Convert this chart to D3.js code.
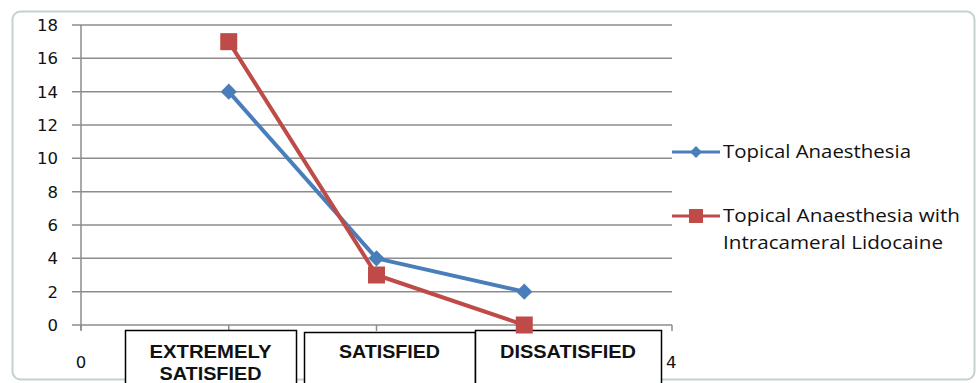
<!DOCTYPE html>
<html>
<head>
<meta charset="utf-8">
<script src="https://cdn.jsdelivr.net/npm/d3@7"></script>
<style>
  html, body { margin: 0; padding: 0; background: #fff; }
  svg { display: block; }
</style>
</head>
<body>
<svg id="chart" width="977" height="383"></svg>
<script>
// Patient satisfaction by anaesthesia technique
const categories = ["EXTREMELY SATISFIED", "SATISFIED", "DISSATISFIED"];
const categoryLines = [["EXTREMELY", "SATISFIED"], ["SATISFIED"], ["DISSATISFIED"]];
const topical = [14, 4, 2];
const topicalLidocaine = [17, 3, 0];
const yTicks = [0, 2, 4, 6, 8, 10, 12, 14, 16, 18];
const xEndTicks = [0, 4];
const seriesNames = ["Topical Anaesthesia", "Topical Anaesthesia with|Intracameral Lidocaine"];

const svg = d3.select("#chart");
const blue = "#4a7ebb", red = "#be4b48", grid = "#8c8c8c";
const font = "'Open Sans', Lato, sans-serif";
const tickFont = "'DejaVu Sans', 'Open Sans', sans-serif";

// chart frame
svg.append("rect")
  .attr("x", 12.5).attr("y", 11.5).attr("width", 962).attr("height", 368)
  .attr("rx", 8).attr("fill", "#fff")
  .attr("stroke", "#c3d1d2").attr("stroke-width", 2);

const x = d3.scaleLinear().domain([0, 4]).range([81, 672]);
const y = d3.scaleLinear().domain([0, 18]).range([325, 25]);

// horizontal gridlines with left tick stubs
svg.append("g").selectAll("line").data(yTicks).join("line")
  .attr("x1", 72).attr("x2", 672)
  .attr("y1", d => y(d)).attr("y2", d => y(d))
  .attr("stroke", grid).attr("stroke-width", 1.5);

// y axis line
svg.append("line").attr("x1", x(0)).attr("x2", x(0))
  .attr("y1", y(18)).attr("y2", y(0) + 5)
  .attr("stroke", grid).attr("stroke-width", 1.5);

// y tick labels
svg.append("g").selectAll("text").data(yTicks).join("text")
  .attr("x", 58).attr("y", d => y(d)).attr("dy", "0.36em")
  .attr("text-anchor", "end").attr("font-family", tickFont)
  .attr("font-size", 16.5).attr("fill", "#111").text(d => d);

// x tick marks
svg.append("g").selectAll("line").data(d3.range(0, 5)).join("line")
  .attr("x1", d => x(d)).attr("x2", d => x(d))
  .attr("y1", y(0)).attr("y2", y(0) + 6)
  .attr("stroke", grid).attr("stroke-width", 1.5);

// x end labels
svg.append("g").selectAll("text").data(xEndTicks).join("text")
  .attr("x", d => d === 0 ? x(d) : x(d) - 6).attr("y", 368)
  .attr("text-anchor", d => d === 0 ? "middle" : "start")
  .attr("font-family", tickFont).attr("font-size", 16.5).attr("fill", "#111")
  .text(d => d);

// category boxes below the axis
const boxes = [
  { x0: 125, x1: 296, top: 330, widths: [122, 102] },
  { x0: 304, x1: 475, top: 332, widths: [101] },
  { x0: 475, x1: 661, top: 330, widths: [136] }
];
const boxG = svg.append("g");
categories.forEach((c, i) => {
  const b = boxes[i];
  boxG.append("rect")
    .attr("x", b.x0 + 0.5).attr("y", b.top + 0.5)
    .attr("width", b.x1 - b.x0).attr("height", 80)
    .attr("fill", "#fff").attr("stroke", "#000").attr("stroke-width", 1.5);
  const cx = (b.x0 + b.x1) / 2;
  categoryLines[i].forEach((ln, j) => {
    boxG.append("text")
      .attr("x", cx).attr("y", 358 + j * 22)
      .attr("text-anchor", "middle")
      .attr("font-family", "'Liberation Sans', Arial, sans-serif")
      .attr("font-weight", "bold").attr("font-size", 17.5)
      .attr("textLength", b.widths[j]).attr("lengthAdjust", "spacingAndGlyphs")
      .attr("fill", "#111").text(ln);
  });
});

// series: each line followed by its own markers, second series on top
const line = d3.line().x((d, i) => x(i + 1)).y(d => y(d));

svg.append("path").datum(topical).attr("d", line)
  .attr("fill", "none").attr("stroke", blue).attr("stroke-width", 4)
  .attr("stroke-linejoin", "round");
const diamond = d3.symbol().type(d3.symbolSquare).size(130);
svg.append("g").selectAll("path").data(topical).join("path")
  .attr("d", diamond())
  .attr("transform", (d, i) => `translate(${x(i + 1)},${y(d)}) rotate(45)`)
  .attr("fill", blue);

svg.append("path").datum(topicalLidocaine).attr("d", line)
  .attr("fill", "none").attr("stroke", red).attr("stroke-width", 4)
  .attr("stroke-linejoin", "round");
svg.append("g").selectAll("rect").data(topicalLidocaine).join("rect")
  .attr("x", (d, i) => x(i + 1) - 8.5).attr("y", d => y(d) - 8.5)
  .attr("width", 17).attr("height", 17).attr("fill", red);

// legend
const legend = svg.append("g");
const legendY = [152, 216];
const legendColors = [blue, red];
const legendWidths = [[188], [237, 220]];
seriesNames.forEach((name, i) => {
  const ly = legendY[i];
  legend.append("line").attr("x1", 672).attr("x2", 720)
    .attr("y1", ly).attr("y2", ly)
    .attr("stroke", legendColors[i]).attr("stroke-width", 3);
  if (i === 0) {
    legend.append("path").attr("d", d3.symbol().type(d3.symbolSquare).size(70)())
      .attr("transform", `translate(696,${ly}) rotate(45)`).attr("fill", blue);
  } else {
    legend.append("rect").attr("x", 689).attr("y", ly - 7)
      .attr("width", 14).attr("height", 14).attr("fill", red);
  }
  name.split("|").forEach((t, j) => {
    legend.append("text").attr("x", 723).attr("y", ly + j * 27).attr("dy", "0.35em")
      .attr("font-family", font).attr("font-size", 17.5).attr("fill", "#111")
      .attr("textLength", legendWidths[i][j]).attr("lengthAdjust", "spacingAndGlyphs")
      .text(t);
  });
});
</script>
</body>
</html>
